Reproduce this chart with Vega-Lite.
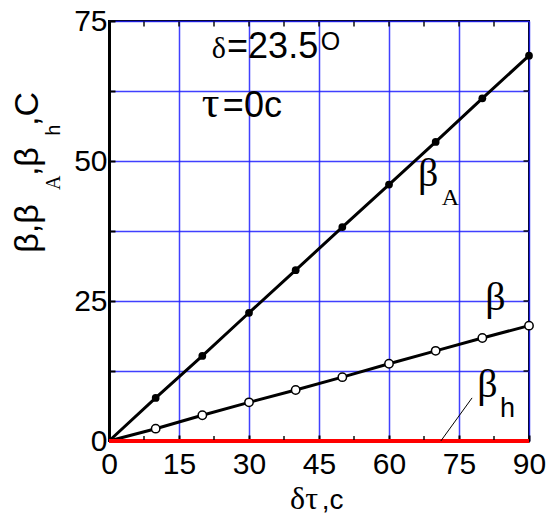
{
  "$schema": "https://vega.github.io/schema/vega-lite/v6.json",
  "width": 420,
  "height": 420,
  "autosize": "none",
  "padding": {"left": 109, "top": 21, "right": 23, "bottom": 74},
  "background": "white",
  "config": {
    "view": {"stroke": "black", "strokeWidth": 2},
    "axis": {
      "labelFont": "Liberation Sans",
      "labelFontSize": 30,
      "labelColor": "black",
      "domainColor": "black",
      "domainWidth": 3,
      "tickColor": "black",
      "tickWidth": 2,
      "gridColor": "#1f1fff",
      "gridWidth": 1.5,
      "gridOpacity": 0.85
    }
  },
  "datasets": {
    "curves": [
      {"dt": 0, "series": "betaA", "value": 0},
      {"dt": 10, "series": "betaA", "value": 7.7},
      {"dt": 20, "series": "betaA", "value": 15.2},
      {"dt": 30, "series": "betaA", "value": 22.9},
      {"dt": 40, "series": "betaA", "value": 30.5},
      {"dt": 50, "series": "betaA", "value": 38.2},
      {"dt": 60, "series": "betaA", "value": 45.8},
      {"dt": 70, "series": "betaA", "value": 53.4},
      {"dt": 80, "series": "betaA", "value": 61.2},
      {"dt": 90, "series": "betaA", "value": 68.8},
      {"dt": 0, "series": "beta", "value": 0},
      {"dt": 10, "series": "beta", "value": 2.2},
      {"dt": 20, "series": "beta", "value": 4.6},
      {"dt": 30, "series": "beta", "value": 6.9},
      {"dt": 40, "series": "beta", "value": 9.1},
      {"dt": 50, "series": "beta", "value": 11.4},
      {"dt": 60, "series": "beta", "value": 13.8},
      {"dt": 70, "series": "beta", "value": 16.1},
      {"dt": 80, "series": "beta", "value": 18.4},
      {"dt": 90, "series": "beta", "value": 20.6},
      {"dt": 0, "series": "betah", "value": 0},
      {"dt": 10, "series": "betah", "value": 0},
      {"dt": 20, "series": "betah", "value": 0},
      {"dt": 30, "series": "betah", "value": 0},
      {"dt": 40, "series": "betah", "value": 0},
      {"dt": 50, "series": "betah", "value": 0},
      {"dt": 60, "series": "betah", "value": 0},
      {"dt": 70, "series": "betah", "value": 0},
      {"dt": 80, "series": "betah", "value": 0},
      {"dt": 90, "series": "betah", "value": 0}
    ],
    "minorX": [
      {"m": 7.5}, {"m": 22.5}, {"m": 37.5}, {"m": 52.5}, {"m": 67.5}, {"m": 82.5}
    ],
    "topX": [
      {"m": 7.5}, {"m": 15}, {"m": 22.5}, {"m": 30}, {"m": 37.5}, {"m": 45},
      {"m": 52.5}, {"m": 60}, {"m": 67.5}, {"m": 75}, {"m": 82.5}
    ],
    "rightY": [
      {"m": 12.5}, {"m": 25}, {"m": 37.5}, {"m": 50}, {"m": 62.5}
    ],
    "one": [{}]
  },
  "layer": [
    {
      "data": {"name": "curves"},
      "transform": [{"filter": "datum.series !== 'betah'"}],
      "mark": {"type": "line", "color": "black", "strokeWidth": 3},
      "encoding": {
        "x": {
          "field": "dt", "type": "quantitative",
          "scale": {"domain": [0, 90], "nice": false},
          "axis": {
            "title": null,
            "orient": "bottom",
            "values": [0, 15, 30, 45, 60, 75, 90],
            "grid": true,
            "tickSize": -6,
            "labelPadding": 14,
            "labelFlush": false,
            "labelOverlap": false
          }
        },
        "y": {
          "field": "value", "type": "quantitative",
          "scale": {"domain": [0, 75], "nice": false},
          "axis": {
            "title": null,
            "orient": "left",
            "values": [0, 12.5, 25, 37.5, 50, 62.5, 75],
            "labelExpr": "datum.value % 25 === 0 ? datum.label : ''",
            "grid": true,
            "tickSize": -6,
            "labelPadding": 8,
            "labelFlush": false,
            "labelOverlap": false
          }
        },
        "detail": {"field": "series"}
      }
    },
    {
      "data": {"name": "curves"},
      "transform": [{"filter": "datum.series === 'betah'"}],
      "mark": {"type": "line", "color": "#ff0000", "strokeWidth": 4},
      "encoding": {
        "x": {"field": "dt", "type": "quantitative"},
        "y": {"field": "value", "type": "quantitative"}
      }
    },
    {
      "data": {"name": "minorX"},
      "mark": {"type": "tick", "orient": "vertical", "size": 4, "thickness": 2, "color": "black", "yOffset": -3},
      "encoding": {
        "x": {"field": "m", "type": "quantitative"},
        "y": {"datum": 0, "type": "quantitative"}
      }
    },
    {
      "data": {"name": "topX"},
      "mark": {"type": "tick", "orient": "vertical", "size": 5, "thickness": 2, "color": "black", "yOffset": 3},
      "encoding": {
        "x": {"field": "m", "type": "quantitative"},
        "y": {"datum": 75, "type": "quantitative"}
      }
    },
    {
      "data": {"name": "rightY"},
      "mark": {"type": "tick", "orient": "horizontal", "size": 5, "thickness": 2, "color": "black", "xOffset": -3},
      "encoding": {
        "y": {"field": "m", "type": "quantitative"},
        "x": {"datum": 90, "type": "quantitative"}
      }
    },
    {
      "data": {"name": "curves"},
      "transform": [{"filter": "datum.series === 'betaA' && datum.dt > 0"}],
      "mark": {"type": "circle", "size": 60, "color": "black", "opacity": 1},
      "encoding": {
        "x": {"field": "dt", "type": "quantitative"},
        "y": {"field": "value", "type": "quantitative"}
      }
    },
    {
      "data": {"name": "curves"},
      "transform": [{"filter": "datum.series === 'beta' && datum.dt > 0"}],
      "mark": {"type": "point", "shape": "circle", "size": 70, "filled": true, "fill": "white", "stroke": "black", "strokeWidth": 1.5, "opacity": 1},
      "encoding": {
        "x": {"field": "dt", "type": "quantitative"},
        "y": {"field": "value", "type": "quantitative"}
      }
    },
    {
      "data": {"name": "one"},
      "mark": {"type": "rule", "color": "black", "strokeWidth": 1},
      "encoding": {
        "x": {"datum": 71.1, "type": "quantitative"},
        "y": {"datum": 0, "type": "quantitative"},
        "x2": {"datum": 77.8},
        "y2": {"datum": 7.7}
      }
    },
    {
      "data": {"name": "one"},
      "mark": {"type": "text", "text": "δ", "font": "Liberation Serif", "fontSize": 30, "align": "left", "baseline": "alphabetic", "color": "black"},
      "encoding": {"x": {"datum": 22.0, "type": "quantitative"}, "y": {"datum": 68.4, "type": "quantitative"}}
    },
    {
      "data": {"name": "one"},
      "mark": {"type": "text", "text": "=23.5", "font": "Liberation Sans", "fontSize": 36, "align": "left", "baseline": "alphabetic", "color": "black"},
      "encoding": {"x": {"datum": 25.3, "type": "quantitative"}, "y": {"datum": 68.4, "type": "quantitative"}}
    },
    {
      "data": {"name": "one"},
      "mark": {"type": "text", "text": "O", "font": "Liberation Sans", "fontSize": 25, "align": "left", "baseline": "alphabetic", "color": "black"},
      "encoding": {"x": {"datum": 45.4, "type": "quantitative"}, "y": {"datum": 69.8, "type": "quantitative"}}
    },
    {
      "data": {"name": "one"},
      "mark": {"type": "text", "text": "τ", "font": "Liberation Serif", "fontSize": 44, "align": "left", "baseline": "alphabetic", "color": "black"},
      "encoding": {"x": {"datum": 19.9, "type": "quantitative"}, "y": {"datum": 57.9, "type": "quantitative"}}
    },
    {
      "data": {"name": "one"},
      "mark": {"type": "text", "text": "=0c", "font": "Liberation Sans", "fontSize": 36, "align": "left", "baseline": "alphabetic", "color": "black"},
      "encoding": {"x": {"datum": 24.4, "type": "quantitative"}, "y": {"datum": 57.9, "type": "quantitative"}}
    },
    {
      "data": {"name": "one"},
      "mark": {"type": "text", "text": "β", "font": "Liberation Serif", "fontSize": 40, "align": "left", "baseline": "alphabetic", "color": "black"},
      "encoding": {"x": {"datum": 66.2, "type": "quantitative"}, "y": {"datum": 45.6, "type": "quantitative"}}
    },
    {
      "data": {"name": "one"},
      "mark": {"type": "text", "text": "A", "font": "Liberation Serif", "fontSize": 24, "align": "left", "baseline": "alphabetic", "color": "black"},
      "encoding": {"x": {"datum": 71.3, "type": "quantitative"}, "y": {"datum": 42.1, "type": "quantitative"}}
    },
    {
      "data": {"name": "one"},
      "mark": {"type": "text", "text": "β", "font": "Liberation Serif", "fontSize": 40, "align": "left", "baseline": "alphabetic", "color": "black"},
      "encoding": {"x": {"datum": 80.6, "type": "quantitative"}, "y": {"datum": 23.4, "type": "quantitative"}}
    },
    {
      "data": {"name": "one"},
      "mark": {"type": "text", "text": "β", "font": "Liberation Serif", "fontSize": 40, "align": "left", "baseline": "alphabetic", "color": "black"},
      "encoding": {"x": {"datum": 78.9, "type": "quantitative"}, "y": {"datum": 7.9, "type": "quantitative"}}
    },
    {
      "data": {"name": "one"},
      "mark": {"type": "text", "text": "h", "font": "Liberation Sans", "fontSize": 27, "align": "left", "baseline": "alphabetic", "color": "black"},
      "encoding": {"x": {"datum": 83.8, "type": "quantitative"}, "y": {"datum": 4.3, "type": "quantitative"}}
    },
    {
      "data": {"name": "one"},
      "mark": {"type": "text", "text": "δτ", "font": "Liberation Serif", "fontSize": 32, "align": "left", "baseline": "alphabetic", "color": "black"},
      "encoding": {"x": {"datum": 38.8, "type": "quantitative"}, "y": {"datum": -12.1, "type": "quantitative"}}
    },
    {
      "data": {"name": "one"},
      "mark": {"type": "text", "text": ",c", "font": "Liberation Sans", "fontSize": 28, "align": "left", "baseline": "alphabetic", "color": "black"},
      "encoding": {"x": {"datum": 45.6, "type": "quantitative"}, "y": {"datum": -12.1, "type": "quantitative"}}
    },
    {
      "data": {"name": "one"},
      "mark": {"type": "text", "text": "β,β", "font": "Liberation Sans", "fontSize": 34, "angle": 270, "align": "left", "baseline": "alphabetic", "color": "black"},
      "encoding": {"x": {"datum": -15.2, "type": "quantitative"}, "y": {"datum": 33.6, "type": "quantitative"}}
    },
    {
      "data": {"name": "one"},
      "mark": {"type": "text", "text": "A", "font": "Liberation Serif", "fontSize": 20, "angle": 270, "align": "left", "baseline": "alphabetic", "color": "black"},
      "encoding": {"x": {"datum": -10.4, "type": "quantitative"}, "y": {"datum": 44.8, "type": "quantitative"}}
    },
    {
      "data": {"name": "one"},
      "mark": {"type": "text", "text": ",β", "font": "Liberation Sans", "fontSize": 34, "angle": 270, "align": "left", "baseline": "alphabetic", "color": "black"},
      "encoding": {"x": {"datum": -15.2, "type": "quantitative"}, "y": {"datum": 47.3, "type": "quantitative"}}
    },
    {
      "data": {"name": "one"},
      "mark": {"type": "text", "text": "h", "font": "Liberation Sans", "fontSize": 20, "angle": 270, "align": "left", "baseline": "alphabetic", "color": "black"},
      "encoding": {"x": {"datum": -10.4, "type": "quantitative"}, "y": {"datum": 54.5, "type": "quantitative"}}
    },
    {
      "data": {"name": "one"},
      "mark": {"type": "text", "text": ",C", "font": "Liberation Sans", "fontSize": 34, "angle": 270, "align": "left", "baseline": "alphabetic", "color": "black"},
      "encoding": {"x": {"datum": -15.2, "type": "quantitative"}, "y": {"datum": 56.25, "type": "quantitative"}}
    }
  ]
}
